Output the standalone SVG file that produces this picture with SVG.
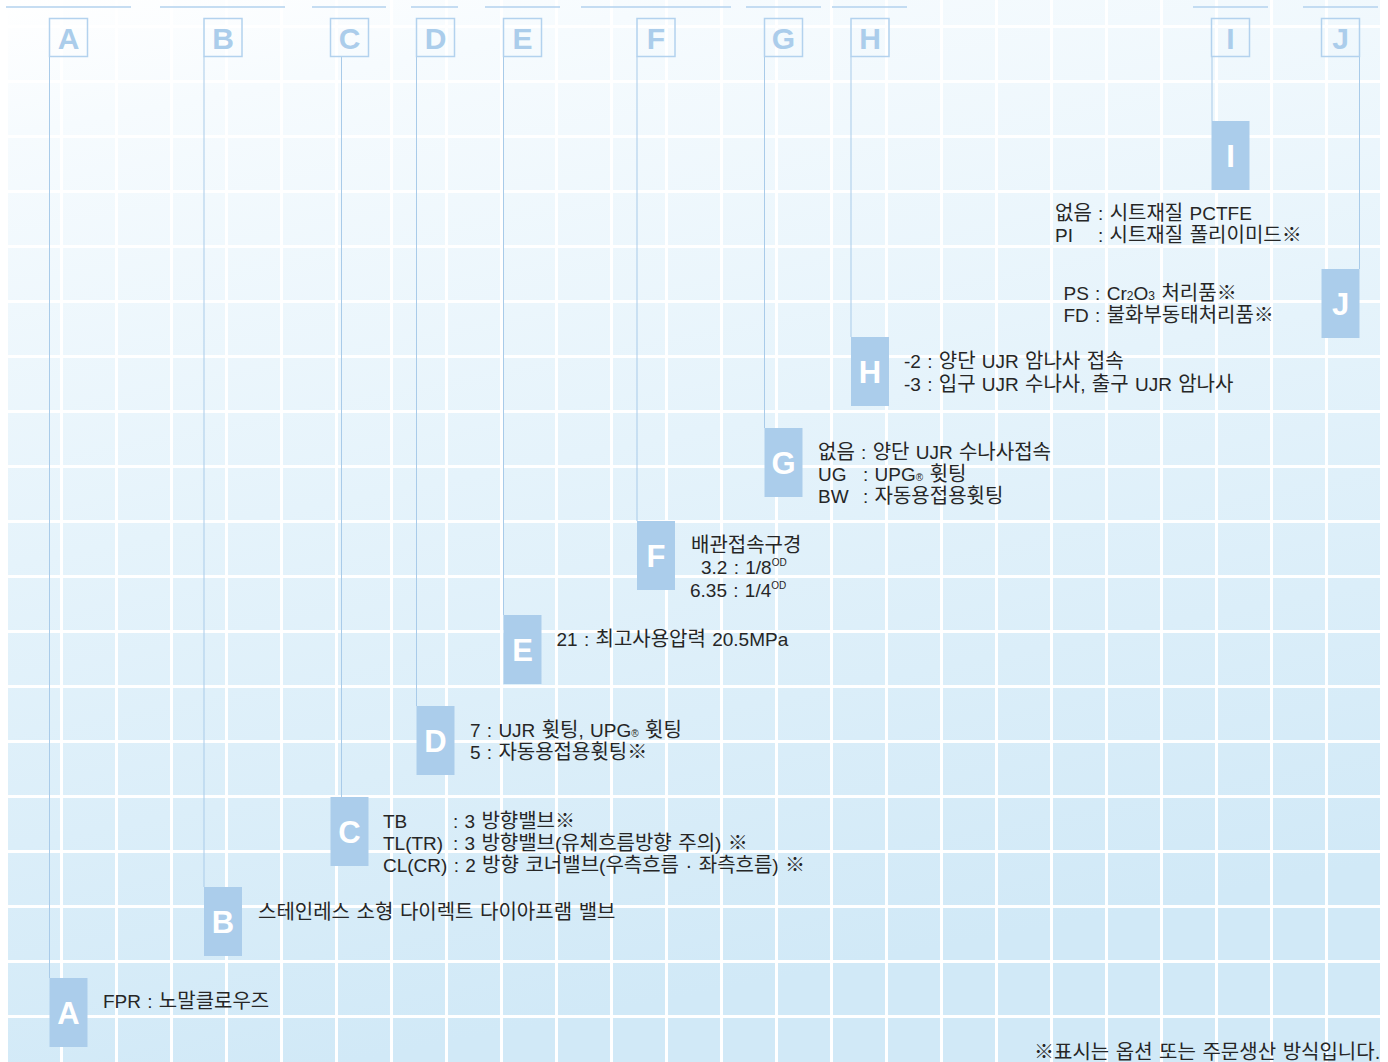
<svg xmlns="http://www.w3.org/2000/svg" width="1388" height="1062" viewBox="0 0 1388 1062">
<defs>
<linearGradient id="bg" x1="0" y1="0" x2="0.25" y2="1">
<stop offset="0" stop-color="#ffffff"/>
<stop offset="0.12" stop-color="#f6fbfe"/>
<stop offset="0.5" stop-color="#e5f3fb"/>
<stop offset="1" stop-color="#d1e9f7"/>
</linearGradient>
<pattern id="grid" patternUnits="userSpaceOnUse" x="60" y="25" width="55" height="55">
<rect x="0" y="0" width="3" height="55" fill="#ffffff"/>
<rect x="0" y="0" width="55" height="3" fill="#ffffff"/>
</pattern>
<style>
.hdr{stroke:#b3d2ee;stroke-width:1.5}
.ob{fill:none;stroke:#b3d2ee;stroke-width:1.5}
.ol{fill:#abcdeb;font-family:"Liberation Sans",Arial,sans-serif;font-weight:bold;font-size:30px;text-anchor:middle}
.fb{fill:#abcdeb}
.fl{fill:#ffffff;font-family:"Liberation Sans",Arial,sans-serif;font-weight:bold;font-size:31px;text-anchor:middle}
.t{fill:#262626;font-family:"Liberation Sans","Noto Sans CJK KR",sans-serif;font-size:20px;word-spacing:1px}
.l{font-size:19px}
.s{font-size:10px}
.conn line{stroke:#a9cbe9;stroke-width:1}
</style>
</defs>
<rect x="0" y="0" width="1388" height="1062" fill="#ffffff"/>
<rect x="8" y="0" width="1373" height="1062" fill="url(#bg)"/>
<rect x="8" y="0" width="1373" height="1062" fill="url(#grid)"/>

<g id="connectors" class="conn">
<line x1="49.5" y1="56.5" x2="49.5" y2="978"/>
<line x1="204" y1="56.5" x2="204" y2="887"/>
<line x1="341.5" y1="56.5" x2="341.5" y2="797"/>
<line x1="416.5" y1="56.5" x2="416.5" y2="706"/>
<line x1="503.5" y1="56.5" x2="503.5" y2="615"/>
<line x1="637" y1="56.5" x2="637" y2="521"/>
<line x1="764.5" y1="56.5" x2="764.5" y2="428"/>
<line x1="851" y1="56.5" x2="851" y2="337"/>
<line x1="1212" y1="56.5" x2="1212" y2="121"/>
<line x1="1359.5" y1="56.5" x2="1359.5" y2="269"/>
</g>

<g id="node-A">
<line class="hdr" x1="6" y1="7" x2="131" y2="7"/>
<rect class="ob" x="49.5" y="18.5" width="38" height="38"/>
<text class="ol" x="68.5" y="49">A</text>
<rect class="fb" x="49.5" y="978" width="38" height="69"/>
<text class="fl" x="68.5" y="1024">A</text>
<text class="t" x="103" y="1008"><tspan class="l">FPR : </tspan>노말클로우즈</text>
</g>

<g id="node-B">
<line class="hdr" x1="160" y1="7" x2="285" y2="7"/>
<rect class="ob" x="204" y="18.5" width="38" height="38"/>
<text class="ol" x="223" y="49">B</text>
<rect class="fb" x="204" y="887" width="38" height="69"/>
<text class="fl" x="223" y="933">B</text>
<text class="t" x="258" y="919" word-spacing="4">스테인레스 소형 다이렉트 다이아프램 밸브</text>
</g>

<g id="node-C">
<line class="hdr" x1="312" y1="7" x2="386" y2="7"/>
<rect class="ob" x="330.5" y="18.5" width="38" height="38"/>
<text class="ol" x="349.5" y="49">C</text>
<rect class="fb" x="330.5" y="797" width="38" height="69"/>
<text class="fl" x="349.5" y="843">C</text>
<text class="t" x="383" y="828"><tspan class="l">TB</tspan></text>
<text class="t" x="453" y="828"><tspan class="l">: 3 </tspan>방향밸브※</text>
<text class="t" x="383" y="850"><tspan class="l">TL(TR)</tspan></text>
<text class="t" x="453" y="850"><tspan class="l">: 3 </tspan>방향밸브<tspan class="l">(</tspan>유체흐름방향 주의<tspan class="l">) </tspan>※</text>
<text class="t" x="383" y="872"><tspan class="l">CL(CR) : 2 </tspan>방향 코너밸브<tspan class="l">(</tspan>우측흐름 · 좌측흐름<tspan class="l">) </tspan>※</text>
</g>

<g id="node-D">
<line class="hdr" x1="411" y1="7" x2="458" y2="7"/>
<rect class="ob" x="416.5" y="18.5" width="38" height="38"/>
<text class="ol" x="435.5" y="49">D</text>
<rect class="fb" x="416.5" y="706" width="38" height="69"/>
<text class="fl" x="435.5" y="752">D</text>
<text class="t" x="470" y="737"><tspan class="l">7 : UJR </tspan>휫팅<tspan class="l">, UPG</tspan><tspan class="s">®</tspan> 휫팅</text>
<text class="t" x="470" y="759"><tspan class="l">5 : </tspan>자동용접용휫팅※</text>
</g>

<g id="node-E">
<line class="hdr" x1="485" y1="7" x2="560" y2="7"/>
<rect class="ob" x="503.5" y="18.5" width="38" height="38"/>
<text class="ol" x="522.5" y="49">E</text>
<rect class="fb" x="503.5" y="615" width="38" height="69"/>
<text class="fl" x="522.5" y="661">E</text>
<text class="t" x="556.5" y="646"><tspan class="l">21 : </tspan>최고사용압력<tspan class="l"> 20.5MPa</tspan></text>
</g>

<g id="node-F">
<line class="hdr" x1="581" y1="7" x2="731" y2="7"/>
<rect class="ob" x="637" y="18.5" width="38" height="38"/>
<text class="ol" x="656" y="49">F</text>
<rect class="fb" x="637" y="521" width="38" height="69"/>
<text class="fl" x="656" y="567">F</text>
<text class="t" x="691" y="552">배관접속구경</text>
<text class="t" x="701" y="574"><tspan class="l">3.2 : 1/8</tspan><tspan class="s" dy="-8">OD</tspan></text>
<text class="t" x="690" y="597"><tspan class="l">6.35 : 1/4</tspan><tspan class="s" dy="-8">OD</tspan></text>
</g>

<g id="node-G">
<line class="hdr" x1="746" y1="7" x2="821" y2="7"/>
<rect class="ob" x="764.5" y="18.5" width="38" height="38"/>
<text class="ol" x="783.5" y="49">G</text>
<rect class="fb" x="764.5" y="428" width="38" height="69"/>
<text class="fl" x="783.5" y="474">G</text>
<text class="t" x="818" y="459">없음<tspan class="l"> : </tspan>양단<tspan class="l"> UJR </tspan>수나사접속</text>
<text class="t" x="818" y="481"><tspan class="l">UG</tspan></text>
<text class="t" x="863" y="481"><tspan class="l">: UPG</tspan><tspan class="s">®</tspan> 휫팅</text>
<text class="t" x="818" y="503"><tspan class="l">BW</tspan></text>
<text class="t" x="863" y="503"><tspan class="l">: </tspan>자동용접용휫팅</text>
</g>

<g id="node-H">
<line class="hdr" x1="832" y1="7" x2="907" y2="7"/>
<rect class="ob" x="851" y="18.5" width="38" height="38"/>
<text class="ol" x="870" y="49">H</text>
<rect class="fb" x="851" y="337" width="38" height="69"/>
<text class="fl" x="870" y="383">H</text>
<text class="t" x="904" y="368"><tspan class="l">-2 : </tspan>양단<tspan class="l"> UJR </tspan>암나사 접속</text>
<text class="t" x="904" y="391"><tspan class="l">-3 : </tspan>입구<tspan class="l"> UJR </tspan>수나사<tspan class="l">, </tspan>출구<tspan class="l"> UJR </tspan>암나사</text>
</g>

<g id="node-I">
<line class="hdr" x1="1193" y1="7" x2="1268" y2="7"/>
<rect class="ob" x="1211.5" y="18.5" width="38" height="38"/>
<text class="ol" x="1230.5" y="49">I</text>
<rect class="fb" x="1211.5" y="121" width="38" height="69"/>
<text class="fl" x="1230.5" y="167">I</text>
<text class="t" x="1055" y="220">없음<tspan class="l"> : </tspan>시트재질<tspan class="l"> PCTFE</tspan></text>
<text class="t" x="1055" y="242"><tspan class="l">PI</tspan></text>
<text class="t" x="1098" y="242"><tspan class="l">: </tspan>시트재질 폴리이미드※</text>
</g>

<g id="node-J">
<line class="hdr" x1="1303" y1="7" x2="1378" y2="7"/>
<rect class="ob" x="1321.5" y="18.5" width="38" height="38"/>
<text class="ol" x="1340.5" y="49">J</text>
<rect class="fb" x="1321.5" y="269" width="38" height="69"/>
<text class="fl" x="1340.5" y="315">J</text>
<text class="t" x="1063.5" y="300"><tspan class="l">PS : Cr</tspan><tspan font-size="12">2</tspan><tspan class="l">O</tspan><tspan font-size="12">3</tspan> 처리품※</text>
<text class="t" x="1063.5" y="322"><tspan class="l">FD : </tspan>불화부동태처리품※</text>
</g>

<text class="t" x="1034" y="1059" word-spacing="2">※표시는 옵션 또는 주문생산 방식입니다.</text>
</svg>
